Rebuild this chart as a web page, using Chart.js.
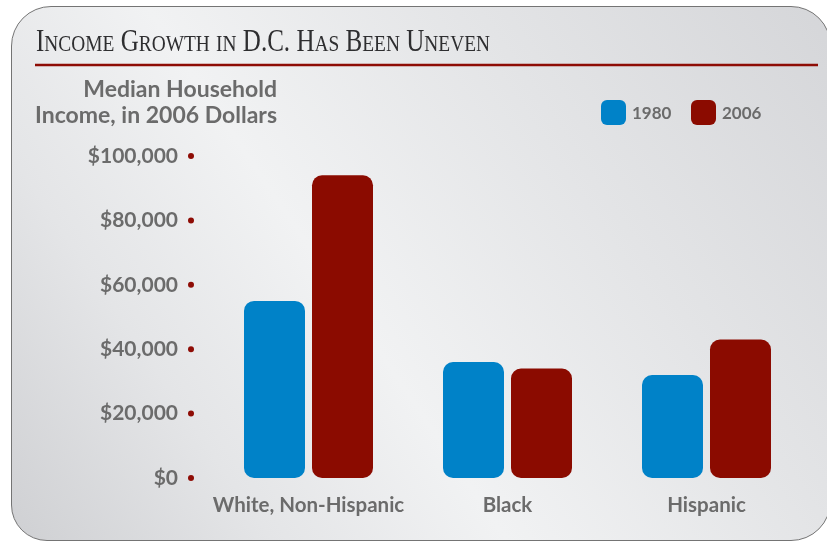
<!DOCTYPE html>
<html>
<head>
<meta charset="utf-8">
<title>Income Growth in D.C. Has Been Uneven</title>
<script src="https://cdn.jsdelivr.net/npm/chart.js@4"></script>
<style>
  html, body { margin: 0; padding: 0; background: #ffffff; }
  #wrap { position: relative; width: 827px; height: 543px; overflow: hidden; }
  #panel {
    position: absolute; left: 11px; top: 6px; width: 820px; height: 535px;
    border: 1.5px solid #747474;
    border-radius: 40px 40px 40px 36px;
    background: linear-gradient(56deg, #cfd0d3 0%, #e4e5e7 22%, #f1f2f3 42%, #e3e4e6 70%, #d5d6d9 100%);
    box-sizing: border-box;
  }
  #chart { position: absolute; left: 0; top: 0; }
</style>
</head>
<body>
<div id="wrap">
  <div id="panel"></div>
  <canvas id="chart" width="827" height="543"></canvas>
</div>
<script>
// Median household income by group, in 2006 dollars
const categories = ['White, Non-Hispanic', 'Black', 'Hispanic'];
const seriesNames = ['1980', '2006'];
const income1980 = [55000, 36000, 32000];
const income2006 = [94000, 34000, 43000];
const yTickValues = [0, 20000, 40000, 60000, 80000, 100000];

const chartTitle = 'Income Growth in D.C. Has Been Uneven';
const axisTitleLines = ['Median Household', 'Income, in 2006 Dollars'];

const BLUE = '#0082c8';
const RED = '#8b0b00';
const GREY_TEXT = '#6b6b6b';
const SANS = 'Lato, "Open Sans", sans-serif';

const fmtDollars = v => '$' + Number(v).toLocaleString('en-US');

// Title in small caps, rule, axis title, legend and tick dots
const decorations = {
  id: 'decorations',
  afterDraw(chart) {
    const ctx = chart.ctx;
    ctx.save();

    // Title: capitals at full size, lower-case letters as small capitals
    const bigFont = '31px "Liberation Serif", "DejaVu Serif", serif';
    const smallFont = '24px "Liberation Serif", "DejaVu Serif", serif';
    const parts = [];
    for (const ch of chartTitle) {
      const isSmall = ch !== ch.toUpperCase();
      parts.push({ text: ch.toUpperCase(), font: isSmall ? smallFont : bigFont });
    }
    let natural = 0;
    for (const p of parts) { ctx.font = p.font; p.w = ctx.measureText(p.text).width; natural += p.w; }
    const titleLeft = 36, titleRight = 490, titleBase = 51;
    const sx = (titleRight - titleLeft) / natural;
    ctx.translate(titleLeft, titleBase);
    ctx.scale(sx, 1);
    ctx.fillStyle = '#2e2e30';
    ctx.textBaseline = 'alphabetic';
    ctx.textAlign = 'left';
    let x = 0;
    for (const p of parts) { ctx.font = p.font; ctx.fillText(p.text, x, 0); x += p.w; }
    ctx.setTransform(1, 0, 0, 1, 0, 0);

    // Rule under the title
    ctx.strokeStyle = '#8e0c05';
    ctx.lineWidth = 2.5;
    ctx.beginPath();
    ctx.moveTo(35, 65);
    ctx.lineTo(818, 65);
    ctx.stroke();

    // Value axis title
    ctx.font = 'bold 23px ' + SANS;
    ctx.fillStyle = GREY_TEXT;
    ctx.textAlign = 'right';
    ctx.textBaseline = 'alphabetic';
    ctx.fillText(axisTitleLines[0], 277, 97);
    ctx.fillText(axisTitleLines[1], 277, 123);

    // Legend
    const ds = chart.data.datasets;
    const legendBoxes = [601, 691];
    ctx.font = 'bold 17px ' + SANS;
    ctx.textAlign = 'left';
    ctx.textBaseline = 'middle';
    ds.forEach((d, i) => {
      const bx = legendBoxes[i], by = 100;
      ctx.fillStyle = d.backgroundColor;
      ctx.beginPath();
      ctx.roundRect(bx, by, 25, 25, 6);
      ctx.fill();
      ctx.fillStyle = GREY_TEXT;
      ctx.fillText(d.label, bx + 31, by + 13.5);
    });

    // Red dots beside each value tick
    const yScale = chart.scales.y;
    ctx.fillStyle = '#8e0c05';
    yScale.ticks.forEach(t => {
      const py = yScale.getPixelForValue(t.value);
      ctx.beginPath();
      ctx.arc(191, py, 3, 0, Math.PI * 2);
      ctx.fill();
    });

    ctx.restore();
  }
};

new Chart(document.getElementById('chart'), {
  type: 'bar',
  data: {
    labels: categories,
    datasets: [
      { label: seriesNames[0], data: income1980, backgroundColor: BLUE },
      { label: seriesNames[1], data: income2006, backgroundColor: RED }
    ]
  },
  options: {
    responsive: false,
    devicePixelRatio: 1,
    animation: false,
    layout: { padding: { top: 156, right: 21, bottom: 0, left: 0 } },
    datasets: {
      bar: {
        categoryPercentage: 0.6834,
        barPercentage: 0.897,
        borderRadius: 10,
        borderSkipped: false
      }
    },
    plugins: {
      legend: { display: false },
      title: { display: false },
      tooltip: { enabled: false }
    },
    scales: {
      x: {
        grid: { display: false, drawTicks: false },
        border: { display: false },
        ticks: {
          color: GREY_TEXT,
          font: { family: SANS, size: 20.5, weight: 'bold' },
          padding: 15,
          maxRotation: 0
        },
        afterFit(scale) { scale.height = 65; }
      },
      y: {
        min: 0,
        max: 100000,
        grid: { display: false, drawTicks: false },
        border: { display: false },
        afterBuildTicks(scale) { scale.ticks = yTickValues.map(v => ({ value: v })); },
        ticks: {
          color: GREY_TEXT,
          font: { family: SANS, size: 21, weight: 'bold' },
          padding: 31,
          callback: v => fmtDollars(v)
        },
        afterFit(scale) { scale.width = 209; }
      }
    }
  },
  plugins: [decorations]
});
</script>
</body>
</html>
